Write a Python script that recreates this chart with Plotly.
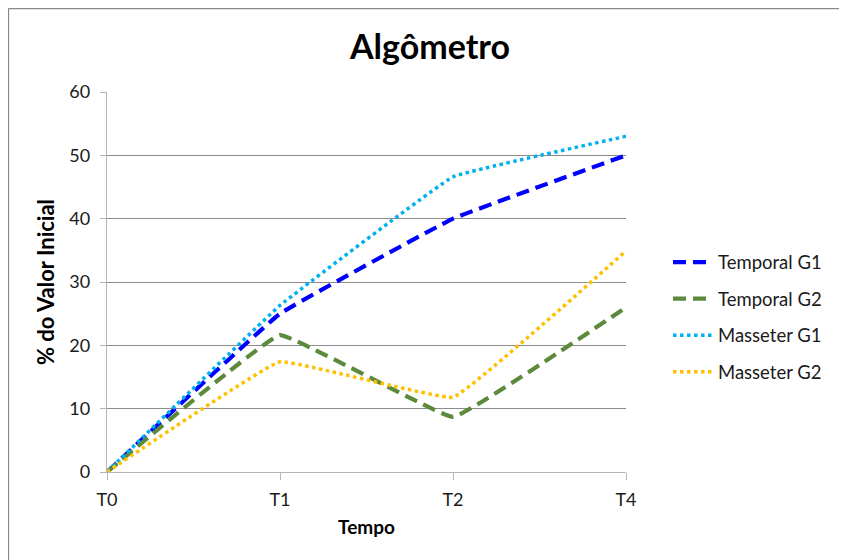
import plotly.graph_objects as go

categories = ["T0", "T1", "T2", "T4"]
temporal_g1 = [0, 25.0, 40.0, 50.0]
temporal_g2 = [0, 21.6, 8.7, 26.0]
masseter_g1 = [0, 26.3, 46.6, 53.0]
masseter_g2 = [0, 17.4, 11.8, 34.9]
y_ticks = [0, 10, 20, 30, 40, 50, 60]

FONT = "Lato"
xs = list(range(len(categories)))

series = [
    ("Temporal G1", temporal_g1, "#0000FF", "13px,7px", 4.2),
    ("Temporal G2", temporal_g2, "#5B8A3C", "13px,7px", 4.2),
    ("Masseter G1", masseter_g1, "#00B0F0", "3.5px,3.5px", 3.5),
    ("Masseter G2", masseter_g2, "#FFC000", "3.5px,3.5px", 3.5),
]

fig = go.Figure()
for i, (name, vals, color, dash, w) in enumerate(series):
    fig.add_trace(go.Scatter(
        x=xs, y=vals, mode="lines", name=name, legendgroup=str(i),
        line=dict(color=color, width=w, dash=dash, shape="spline", smoothing=0.2),
    ))

fig.update_layout(
    width=847, height=560,
    margin=dict(l=99, r=229, t=84, b=96),
    paper_bgcolor="white", plot_bgcolor="white",
    font=dict(family=FONT, size=17, color="#1a1a1a"),
    title=dict(text="<b>Algômetro</b>", x=(430 - 8 - 99) / 519, xref="paper",
               xanchor="center", y=1 - 39 / 560, yanchor="middle",
               font=dict(family=FONT, size=34, color="#000000")),
    showlegend=True,
    legend=dict(x=(668 - 8 - 99) / 519, xanchor="left", y=1 - (317 - 8 - 84) / 380, yanchor="middle",
                font=dict(family=FONT, size=18.5, color="#1a1a1a"),
                tracegroupgap=9.5, itemwidth=40, bgcolor="rgba(0,0,0,0)"),
    xaxis=dict(
        tickmode="array", tickvals=xs, ticktext=categories, range=[0, 3],
        showgrid=False, showline=True, linecolor="#b5b5b5", linewidth=1.3,
        ticks="outside", ticklen=7, tickcolor="#b5b5b5", ticklabelstandoff=4,
        tickfont=dict(family=FONT, size=18, color="#1a1a1a"),
        title=dict(text="<b>Tempo</b>", font=dict(family=FONT, size=19, color="#000000"), standoff=11),
        zeroline=False,
    ),
    yaxis=dict(
        tickmode="array", tickvals=y_ticks, range=[0, 60],
        showgrid=True, gridcolor="#8c8c8c", gridwidth=1,
        showline=True, linecolor="#b5b5b5", linewidth=1.3,
        ticks="outside", ticklen=6, tickcolor="#b5b5b5", ticklabelstandoff=6,
        tickfont=dict(family=FONT, size=18, color="#1a1a1a"),
        title=dict(text="<b>% do Valor Inicial</b>", font=dict(family=FONT, size=22, color="#000000"), standoff=8),
        zeroline=False,
    ),
)

# outer chart-area border (top and left edges visible in the reference)
bx0 = -98.5 / 519
by1 = 1 + 83.5 / 380
fig.add_shape(type="line", xref="paper", yref="paper", x0=bx0, x1=1.6, y0=by1, y1=by1,
              line=dict(color="#8a8a8a", width=1.3), layer="below")
fig.add_shape(type="line", xref="paper", yref="paper", x0=bx0, x1=bx0, y0=-0.4, y1=by1,
              line=dict(color="#8a8a8a", width=1.3), layer="below")

fig.write_html("out.html")
